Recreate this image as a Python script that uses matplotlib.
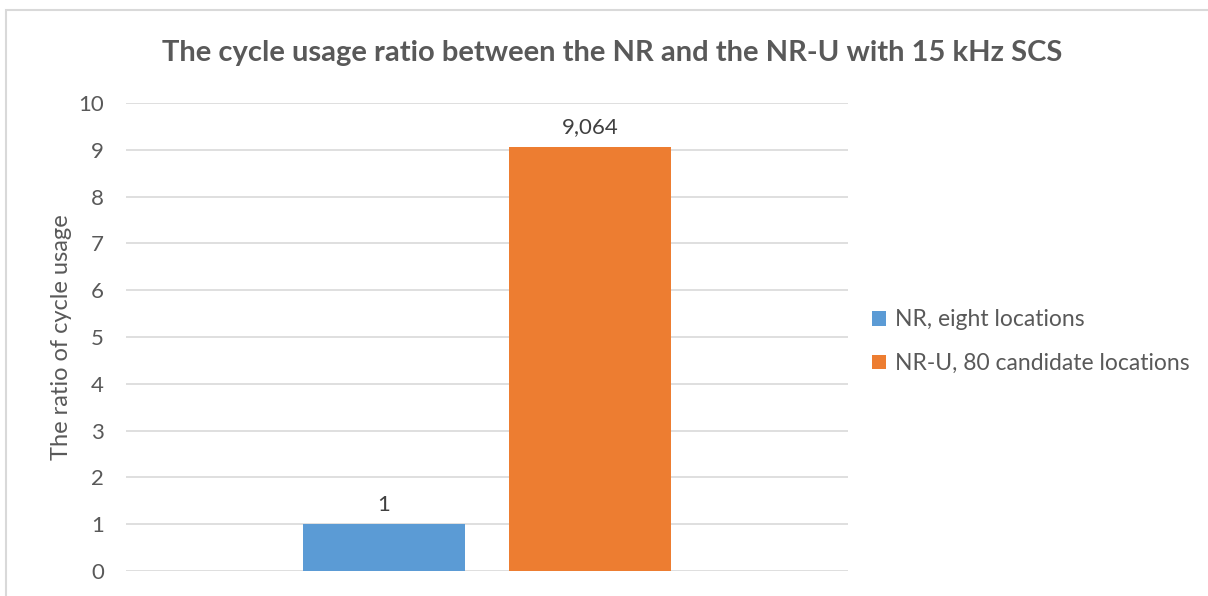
import matplotlib.pyplot as plt
from matplotlib.patches import Rectangle

# data
series = ["NR, eight locations", "NR-U, 80 candidate locations"]
values = [1, 9.064]
labels = ["1", "9,064"]
colors = ["#5b9bd5", "#ed7d31"]
yticks = list(range(0, 11))

plt.rcParams['font.family'] = ['Lato', 'DejaVu Sans']
txt = "#595959"

fig = plt.figure(figsize=(12.08, 5.96), dpi=100)
ax = fig.add_axes([126 / 1208, 1 - 571 / 596, (848 - 126) / 1208, (571 - 103) / 596])

# outer chart border (Excel style)
fig.patches.append(Rectangle((6 / 1208, -0.1), 1.2, 1 - 10 / 596 + 0.1, transform=fig.transFigure,
                             fill=False, edgecolor="#d9d9d9", linewidth=1.5))

w = 162 / 722
offsets = [-0.1427, 0.1433]
for name, v, lab, c, off in zip(series, values, labels, colors, offsets):
    ax.bar(off, v, width=w, color=c, label=name, zorder=3)
    ax.text(off, v + 0.2, lab, ha="center", va="bottom", fontsize=16, color="#404040")

ax.set_xlim(-0.5, 0.5)
ax.set_ylim(0, 10)
ax.set_yticks(yticks)
ax.set_xticks([])
ax.grid(axis="y", color="#d9d9d9", linewidth=1.2, zorder=0)
for s in ax.spines.values():
    s.set_visible(False)
ax.tick_params(axis="y", length=0, labelsize=16, labelcolor=txt, pad=16)
ax.set_ylabel("The ratio of cycle usage", fontsize=17, color=txt, labelpad=4)

fig.text(612 / 1208, 1 - 53 / 596, "The cycle usage ratio between the NR and the NR-U with 15 kHz SCS",
         ha="center", va="center", fontsize=21, fontweight="bold", color=txt)

ax.legend(loc="center left", bbox_to_anchor=((872 - 126) / 722, 0.49), frameon=False,
          fontsize=16.5, labelcolor=txt, handlelength=0.6, handleheight=0.6, labelspacing=0.98,
          handletextpad=0.4, borderpad=0, borderaxespad=0)

fig.savefig("out.png", dpi=100)
